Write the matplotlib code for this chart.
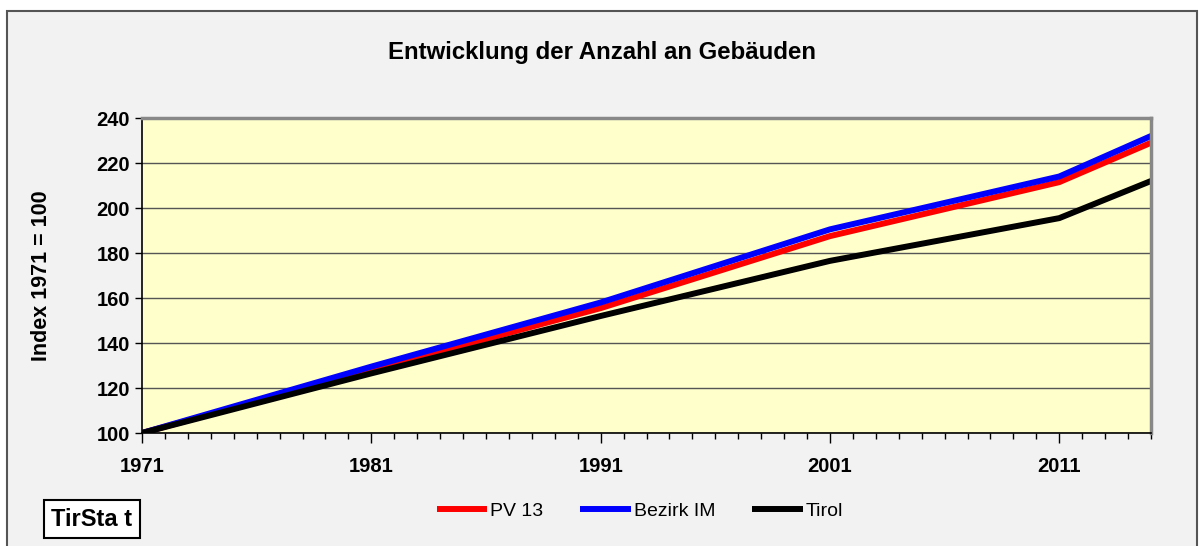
import matplotlib.pyplot as plt
import numpy as np
from matplotlib.patches import Rectangle
from matplotlib.ticker import MultipleLocator

plt.rcParams['font.family'] = ['Liberation Sans', 'DejaVu Sans']

# data (index 1971 = 100)
years = [1971, 1981, 1991, 2001, 2011, 2015]
pv13 = [100, 128, 155.5, 187.5, 211.5, 229]
bezirk_im = [100, 129.5, 158, 190.5, 214, 232]
tirol = [100, 126.5, 152, 176.5, 195.5, 212]

fig = plt.figure(figsize=(12.04, 5.46), dpi=100)
fig.patch.set_facecolor('white')

# grey chart area with frame
fig.patches.append(Rectangle((7 / 1204, -0.05), 1190 / 1204, 1.05 - 11 / 546,
                             transform=fig.transFigure, facecolor='#f2f2f2',
                             edgecolor='#555555', linewidth=1.5, zorder=-5))

ax = fig.add_axes([142 / 1204, 113 / 546, 1009 / 1204, 315 / 546])
ax.set_zorder(2)
ax.set_facecolor('#ffffcc')

ax.plot(years, pv13, color='#ff0000', lw=4.3, label='PV 13', solid_capstyle='butt')
ax.plot(years, bezirk_im, color='#0000ff', lw=4.3, label='Bezirk IM', solid_capstyle='butt')
ax.plot(years, tirol, color='black', lw=4.3, label='Tirol', solid_capstyle='butt')

ax.set_xlim(1971, 2015)
ax.set_ylim(100, 240)
ax.set_yticks(np.arange(100, 241, 20))
ax.set_xticks([1971, 1981, 1991, 2001, 2011])
ax.xaxis.set_minor_locator(MultipleLocator(1))
ax.grid(axis='y', color='#555555', lw=1)
ax.set_axisbelow(True)

ax.tick_params(axis='both', which='major', labelsize=14.5, length=5, width=1, direction='out')
ax.tick_params(axis='x', which='major', length=7, pad=10)
ax.tick_params(axis='x', which='minor', length=4, width=1)
for lab in ax.get_xticklabels() + ax.get_yticklabels():
    lab.set_fontweight('bold')

for s in ['top', 'right']:
    ax.spines[s].set_color('#888888')
    ax.spines[s].set_linewidth(2.5)
for s in ['left', 'bottom']:
    ax.spines[s].set_color('black')
    ax.spines[s].set_linewidth(1.2)

ax.set_ylabel('Index 1971 = 100', fontsize=15.5, fontweight='bold', labelpad=32)

fig.text(0.5, 1 - 52 / 546, 'Entwicklung der Anzahl an Gebäuden', ha='center', va='center',
         fontsize=17.3, fontweight='bold')

leg = fig.legend(loc='center', bbox_to_anchor=(640 / 1204, 1 - 511 / 546), ncol=3, frameon=False,
                 fontsize=14, handlelength=2.6, handletextpad=0.15, columnspacing=1.9)

fig.text(92 / 1204, 1 - 519 / 546, 'TirSta t', ha='center', va='center', fontsize=17,
         fontweight='bold',
         bbox=dict(boxstyle='square,pad=0.3', facecolor='white', edgecolor='black', lw=1.5))

fig.savefig('out.png', dpi=100)
